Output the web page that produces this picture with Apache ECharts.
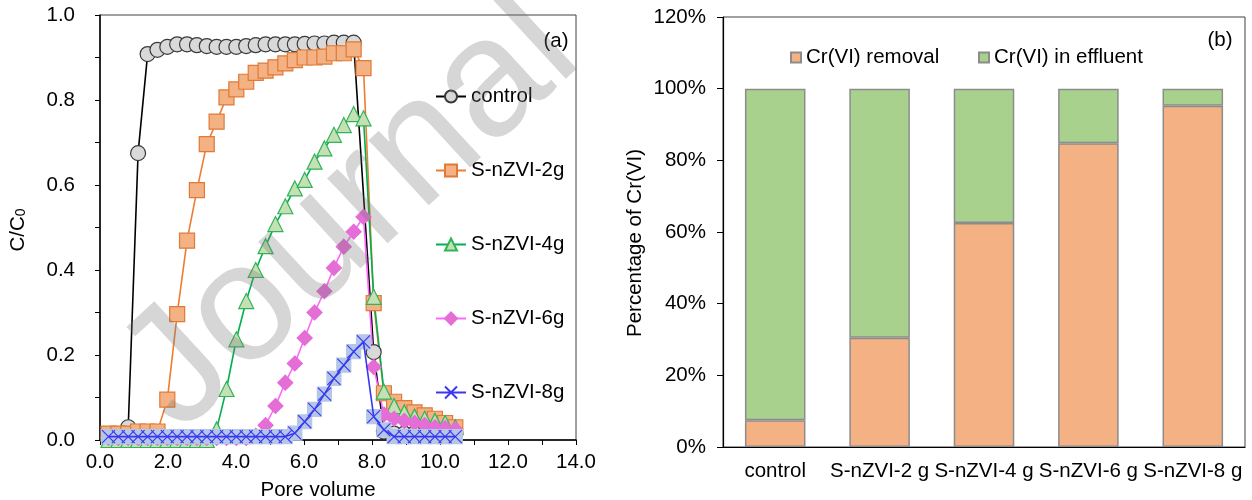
<!DOCTYPE html>
<html>
<head>
<meta charset="utf-8">
<title>Cr(VI) breakthrough and removal</title>
<script src="https://cdn.jsdelivr.net/npm/echarts/dist/echarts.min.js"></script>
<style>
    * { margin: 0; padding: 0 }
    html, body { background: #fff; }
    #main { width: 1252px; height: 500px; }
</style>
</head>
<body>
<div id="main"></div>
<script>
// (a) breakthrough curves, one pore volume list shared by every column
var poreVolume = [0.25, 0.54, 0.83, 1.12, 1.40, 1.69, 1.98, 2.27, 2.56, 2.85, 3.14, 3.43, 3.72, 4.01, 4.30, 4.58, 4.87, 5.16,
    5.45, 5.73, 6.02, 6.31, 6.60, 6.88, 7.17, 7.46, 7.75, 8.05, 8.35, 8.65, 8.95, 9.25, 9.55, 9.85, 10.15, 10.45];
var control = [0.00, 0.00, 0.03, 0.675, 0.908, 0.918, 0.925, 0.931, 0.931, 0.929, 0.927, 0.925, 0.925, 0.925, 0.927, 0.929, 0.931, 0.931,
    0.931, 0.931, 0.932, 0.933, 0.933, 0.935, 0.935, 0.935, null, 0.207, 0.02, 0.015, 0.015, 0.015, 0.015, 0.015, 0.015, 0.015];
var nzvi2 = [0.015, 0.015, 0.015, 0.02, 0.02, 0.02, 0.095, 0.296, 0.469, 0.588, 0.696, 0.749, 0.806, 0.825, 0.843, 0.864, 0.869, 0.877,
    0.886, 0.894, 0.900, 0.900, 0.902, 0.910, 0.910, 0.919, 0.875, 0.322, 0.110, 0.090, 0.075, 0.065, 0.058, 0.050, 0.040, 0.030];
var nzvi4 = [0, 0, 0, 0, 0, 0, 0, 0, 0, 0, 0, 0.025, 0.12, 0.237, 0.327, 0.40, 0.456, 0.508,
    0.55, 0.592, 0.612, 0.655, 0.686, 0.718, 0.741, 0.767, 0.757, 0.337, 0.114, 0.080, 0.065, 0.055, 0.050, 0.045, 0.040, 0.030];
var nzvi6 = [0.005, 0.005, 0.005, 0.005, 0.005, 0.005, 0.005, 0.005, 0.005, 0.005, 0.005, 0.005, 0.005, 0.005, 0.005, 0.01, 0.035, 0.08,
    0.135, 0.18, 0.24, 0.30, 0.35, 0.405, 0.455, 0.49, 0.525, 0.172, 0.06, 0.05, 0.045, 0.04, 0.035, 0.03, 0.028, 0.025];
var nzvi8 = [0.008, 0.008, 0.008, 0.008, 0.008, 0.008, 0.008, 0.008, 0.008, 0.008, 0.008, 0.008, 0.008, 0.008, 0.008, 0.008, 0.008, 0.008,
    0.008, 0.016, 0.043, 0.072, 0.108, 0.145, 0.176, 0.208, 0.231, 0.055, 0.024, 0.008, 0.008, 0.008, 0.008, 0.008, 0.008, 0.008];

// (b) mass balance, percent
var barCats = ['control', 'S-nZVI-2 g', 'S-nZVI-4 g', 'S-nZVI-6 g', 'S-nZVI-8 g'];
var removal = [7.5, 30.5, 62.5, 84.8, 95.2];
var effluent = [92.5, 69.5, 37.5, 15.2, 4.8];

var FONT = 'Liberation Sans';
var FS = 20.5;

function pairs(ys) {
    var out = [];
    for (var i = 0; i < poreVolume.length; i++) {
        out.push([poreVolume[i], ys[i]]);
    }
    return out;
}

function curve(name, ys, symbol, size, lineColor, fill, border) {
    return {
        name: name,
        type: 'line',
        xAxisIndex: 0,
        yAxisIndex: 0,
        data: pairs(ys),
        connectNulls: true,
        clip: false,
        symbol: symbol,
        symbolSize: size,
        showAllSymbol: true,
        lineStyle: { color: lineColor, width: 1.6 },
        itemStyle: { color: fill, borderColor: border, borderWidth: 1.2 }
    };
}

var series = [
    curve('control', control, 'circle', 15, '#000000', '#d9d9d9', '#3a3a3a'),
    curve('S-nZVI-2g', nzvi2, 'rect', 15, '#ed7d31', '#f4b183', '#e07a36'),
    curve('S-nZVI-4g', nzvi4, 'triangle', 15, '#00b050', '#c5e0b4', '#2fb458'),
    curve('S-nZVI-6g', nzvi6, 'diamond', 15, '#ff66ff', '#e46dd6', '#e46dd6')
];
// 8g: blue X drawn over a light blue square
var s8x = curve('S-nZVI-8g', nzvi8, 'path://M0,0L10,10M10,0L0,10', 13, '#3b37f0', 'rgba(0,0,0,0)', '#3b37f0');
s8x.z = 4;
var s8bg = curve('S-nZVI-8g', nzvi8, 'rect', 14, '#3b37f0', '#b4c7e7', '#b4c7e7');
s8bg.lineStyle.opacity = 0;
s8bg.z = 3;
series.push(s8x, s8bg);

series.push({
    name: 'Cr(VI) removal',
    type: 'bar',
    xAxisIndex: 1,
    yAxisIndex: 1,
    stack: 'cr',
    barWidth: '58%',
    data: removal,
    itemStyle: { color: '#f4b183', borderColor: '#8c8c8c', borderWidth: 1.5 }
});
series.push({
    name: 'Cr(VI) in effluent',
    type: 'bar',
    xAxisIndex: 1,
    yAxisIndex: 1,
    stack: 'cr',
    barWidth: '58%',
    data: effluent,
    itemStyle: { color: '#a9d18e', borderColor: '#8c8c8c', borderWidth: 1.5 }
});

var fontStr = FS + 'px "' + FONT + '"';

var option = {
    animation: false,
    backgroundColor: '#fff',
    textStyle: { fontFamily: FONT },
    grid: [
        { left: 100, top: 15, width: 476, height: 425, show: true, borderColor: '#404040', borderWidth: 1 },
        { left: 723, top: 17, width: 522, height: 430, show: true, borderColor: '#404040', borderWidth: 1 }
    ],
    legend: [{
        orient: 'vertical',
        left: 435,
        top: 86,
        padding: 0,
        itemWidth: 30,
        itemHeight: 15,
        itemGap: 53,
        data: ['control', 'S-nZVI-2g', 'S-nZVI-4g', 'S-nZVI-6g', 'S-nZVI-8g'],
        textStyle: { fontFamily: FONT, fontSize: FS, color: '#000', lineHeight: 15 }
    }, {
        left: 790,
        top: 47,
        padding: 0,
        icon: 'rect',
        itemWidth: 10,
        itemHeight: 10,
        data: ['Cr(VI) removal'],
        textStyle: { fontFamily: FONT, fontSize: FS, color: '#000', lineHeight: 10 }
    }, {
        left: 978,
        top: 47,
        padding: 0,
        icon: 'rect',
        itemWidth: 10,
        itemHeight: 10,
        data: ['Cr(VI) in effluent'],
        textStyle: { fontFamily: FONT, fontSize: FS, color: '#000', lineHeight: 10 }
    }],
    xAxis: [{
        type: 'value',
        gridIndex: 0,
        min: 0,
        max: 14,
        interval: 1,
        axisLine: { onZero: false, lineStyle: { color: '#000', width: 1.5 } },
        axisTick: { inside: false, length: 5, lineStyle: { color: '#000' } },
        splitLine: { show: false },
        axisLabel: {
            margin: 12,
            fontFamily: FONT, fontSize: FS, color: '#000',
            formatter: function (v) { return v % 2 === 0 ? v.toFixed(1) : ''; }
        }
    }, {
        type: 'category',
        gridIndex: 1,
        data: barCats,
        axisLine: { lineStyle: { color: '#000', width: 1.2 } },
        axisTick: { show: false },
        axisLabel: { interval: 0, margin: 14, fontFamily: FONT, fontSize: FS, color: '#000' }
    }],
    yAxis: [{
        type: 'value',
        gridIndex: 0,
        min: 0,
        max: 1,
        interval: 0.1,
        axisLine: { show: true, onZero: false, lineStyle: { color: '#000', width: 1.5 } },
        axisTick: { show: true, inside: false, length: 5, lineStyle: { color: '#000' } },
        splitLine: { show: false },
        axisLabel: {
            margin: 25,
            fontFamily: FONT, fontSize: FS, color: '#000',
            formatter: function (v) {
                var t = Math.round(v * 10);
                return t % 2 === 0 ? (t / 10).toFixed(1) : '';
            }
        }
    }, {
        type: 'value',
        gridIndex: 1,
        min: 0,
        max: 120,
        interval: 20,
        axisLine: { show: true, lineStyle: { color: '#000', width: 1.2 } },
        axisTick: { show: true, inside: false, length: 6, lineStyle: { color: '#000' } },
        splitLine: { show: false },
        axisLabel: { margin: 17, fontFamily: FONT, fontSize: FS, color: '#000', formatter: '{value}%' }
    }],
    graphic: [
        {
            type: 'text', x: 18, y: 230, rotation: Math.PI / 2,
            style: {
                text: '{a|C/C}{s|0}', align: 'center', verticalAlign: 'middle',
                rich: {
                    a: { fontFamily: FONT, fontSize: FS, fill: '#000', lineHeight: 21, verticalAlign: 'top' },
                    s: { fontFamily: FONT, fontSize: 14, fill: '#000', lineHeight: 14, verticalAlign: 'bottom' }
                }
            }
        },
        { type: 'text', x: 318, y: 490, style: { text: 'Pore volume', font: fontStr, fill: '#000', align: 'center', verticalAlign: 'middle' } },
        { type: 'text', x: 556, y: 41, style: { text: '(a)', font: fontStr, fill: '#000', align: 'center', verticalAlign: 'middle' } },
        { type: 'text', x: 1220, y: 40, style: { text: '(b)', font: fontStr, fill: '#000', align: 'center', verticalAlign: 'middle' } },
        {
            type: 'text', x: 635, y: 243, rotation: Math.PI / 2,
            style: { text: 'Percentage of Cr(VI)', font: fontStr, fill: '#000', align: 'center', verticalAlign: 'middle' }
        },
        {
            type: 'text', x: 351, y: 214, rotation: 0.745, z: 100, silent: true,
            style: { text: 'Journal', font: '168px "' + FONT + '"', fill: 'rgba(120,120,120,0.3)', align: 'center', verticalAlign: 'middle' }
        }
    ],
    series: series
};

var myChart = echarts.init(document.getElementById('main'));
myChart.setOption(option);
</script>
</body>
</html>
